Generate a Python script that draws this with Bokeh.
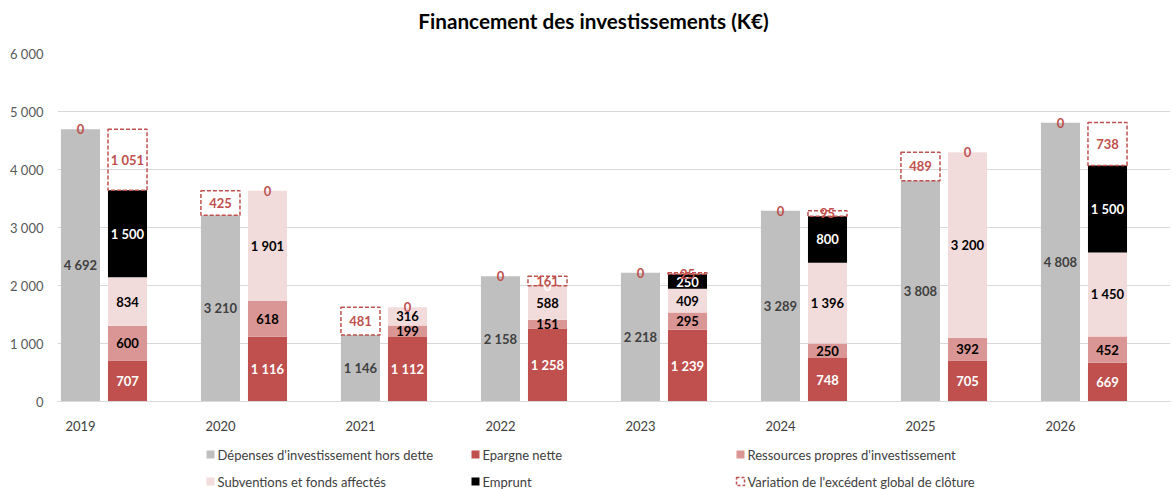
from bokeh.plotting import figure
from bokeh.models import ColumnDataSource, FixedTicker
from bokeh.layouts import column
from bokeh.core.properties import value
from bokeh.embed import file_html
from bokeh.resources import INLINE

# ---- data ----
years = ["2019", "2020", "2021", "2022", "2023", "2024", "2025", "2026"]
depenses = [4692, 3210, 1146, 2158, 2218, 3289, 3808, 4808]
epargne = [707, 1116, 1112, 1258, 1239, 748, 705, 669]
ressources = [600, 618, 199, 151, 295, 250, 392, 452]
subventions = [834, 1901, 316, 588, 409, 1396, 3200, 1450]
emprunt = [1500, 0, 0, 0, 250, 800, 0, 1500]
variation = [1051, -425, -481, 161, 25, 95, -489, 738]
y_ticks = [0, 1000, 2000, 3000, 4000, 5000, 6000]
title_text = "Financement des investissements (K€)"
series_names = ["Dépenses d'investissement hors dette", "Epargne nette",
                "Ressources propres d'investissement", "Subventions et fonds affectés",
                "Emprunt", "Variation de l'excédent global de clôture"]

FONT = "Lato"
C_GRAY = "#BFBFBF"
C_EPA = "#C0504D"
C_RES = "#D99694"
C_SUB = "#F2DCDB"
C_EMP = "#000000"
C_VAR = "#C0504D"

OFF = 0.336
BW = 0.279
W = 1175
FL, FR = 57, 1170   # frame left / right in page pixels


def fmt(v):
    return f"{int(round(abs(v))):,}".replace(",", " ")


def labels(fig, xs, ys, texts, color, size="13px", style="bold", align="center"):
    src = ColumnDataSource(dict(x=xs, y=ys, t=texts))
    fig.text(x="x", y="y", text="t", source=src, text_align=align, text_baseline="middle",
             text_font=value(FONT), text_font_size=size, text_font_style=style,
             text_color=color)


def strip(height):
    f = figure(width=W, height=height, output_backend="svg", toolbar_location=None,
               x_range=(FL, FR), y_range=(0, height),
               min_border_left=FL, min_border_right=W - FR, min_border_top=0, min_border_bottom=0,
               x_axis_location=None, y_axis_location=None)
    f.grid.visible = False
    f.outline_line_color = None
    return f


n = len(years)
xl = [i for i in range(n)]
xr = [i + OFF for i in range(n)]

e_b = [0] * n
e_t = [epargne[i] for i in range(n)]
r_b = e_t
r_t = [r_b[i] + ressources[i] for i in range(n)]
s_b = r_t
s_t = [s_b[i] + subventions[i] for i in range(n)]
m_b = s_t
m_t = [m_b[i] + emprunt[i] for i in range(n)]

v_x, v_b, v_t, z_x, z_y = [], [], [], [], []
for i in range(n):
    v = variation[i]
    if v >= 0:
        v_x.append(xr[i]); v_b.append(m_t[i]); v_t.append(m_t[i] + v)
        z_x.append(xl[i]); z_y.append(depenses[i])
    else:
        v_x.append(xl[i]); v_b.append(depenses[i]); v_t.append(depenses[i] - v)
        z_x.append(xr[i]); z_y.append(m_t[i])

# ---- title strip ----
TH = 45
tf = strip(TH)
labels(tf, [593], [TH - 20], [title_text], "#000000", size="20.7px", style="bold")

# ---- main chart ----
p = figure(width=W, height=400, output_backend="svg", toolbar_location=None,
           x_range=(-0.164, 7.786), y_range=(0, 6000),
           min_border_left=FL, min_border_right=W - FR, min_border_top=8, min_border_bottom=44)

p.outline_line_color = None
p.background_fill_color = "white"
p.border_fill_color = "white"

p.xgrid.grid_line_color = None
p.ygrid.grid_line_color = "#D9D9D9"
p.ygrid.grid_line_width = 1
p.yaxis.ticker = FixedTicker(ticks=y_ticks)
p.yaxis.major_label_overrides = {t: fmt(t) for t in y_ticks}
p.yaxis.axis_line_color = None
p.yaxis.major_tick_line_color = None
p.yaxis.minor_tick_line_color = None
p.yaxis.major_label_text_font = FONT
p.yaxis.major_label_text_font_size = "13px"
p.yaxis.major_label_text_color = "#595959"
p.yaxis.major_label_standoff = 8

p.xaxis.ticker = FixedTicker(ticks=list(range(n)))
p.xaxis.major_label_overrides = {i: years[i] for i in range(n)}
p.xaxis.axis_line_color = "#D9D9D9"
p.xaxis.axis_line_width = 1
p.xaxis.major_tick_line_color = None
p.xaxis.minor_tick_line_color = None
p.xaxis.major_label_text_font = FONT
p.xaxis.major_label_text_font_size = "13px"
p.xaxis.major_label_text_color = "#404040"
p.xaxis.major_label_standoff = 13

p.vbar(x=xl, top=depenses, bottom=0, width=BW, fill_color=C_GRAY, line_color=None)
p.vbar(x=xr, top=e_t, bottom=e_b, width=BW, fill_color=C_EPA, line_color=None)
p.vbar(x=xr, top=r_t, bottom=r_b, width=BW, fill_color=C_RES, line_color=None)
p.vbar(x=xr, top=s_t, bottom=s_b, width=BW, fill_color=C_SUB, line_color=None)
p.vbar(x=xr, top=m_t, bottom=m_b, width=BW, fill_color=C_EMP, line_color=None)
p.vbar(x=v_x, top=v_t, bottom=v_b, width=BW, fill_color="white", fill_alpha=0.0,
       line_color=C_VAR, line_width=1.5, line_dash="4 2")

labels(p, xl, [d / 2 for d in depenses], [fmt(d) for d in depenses], "#404040")
labels(p, xr, [(e_b[i] + e_t[i]) / 2 for i in range(n)], [fmt(v) for v in epargne], "white")
labels(p, xr, [(r_b[i] + r_t[i]) / 2 for i in range(n)], [fmt(v) for v in ressources], "black")
labels(p, xr, [(s_b[i] + s_t[i]) / 2 for i in range(n)], [fmt(v) for v in subventions], "black")
labels(p, xr, [(m_b[i] + m_t[i]) / 2 for i in range(n)], [fmt(v) for v in emprunt], "white")
labels(p, v_x, [(v_b[i] + v_t[i]) / 2 for i in range(n)], [fmt(v) for v in variation], C_VAR)
labels(p, z_x, z_y, ["0"] * n, C_VAR)

# ---- legend strip ----
LH = 45
lf = strip(LH)
col_x = [210, 475, 740]
row_y = [36, 9]
fills = [C_GRAY, C_EPA, C_RES, C_SUB, C_EMP, None]
mx, my, mc = [], [], []
tx, ty = [], []
for k in range(6):
    cx = col_x[k % 3]
    cy = row_y[k // 3]
    tx.append(cx + 7)
    ty.append(cy)
    if fills[k] is not None:
        mx.append(cx); my.append(cy); mc.append(fills[k])
lf.rect(x=mx, y=my, width=8, height=8, fill_color=mc, line_color=None)
lf.rect(x=[col_x[2]], y=[row_y[1]], width=8, height=8, fill_color="white",
        line_color=C_VAR, line_width=1.5, line_dash="3 2")
labels(lf, tx, ty, series_names, "#404040", size="13px", style="normal", align="left")

open("out.html", "w").write(file_html(column(tf, p, lf), INLINE))
